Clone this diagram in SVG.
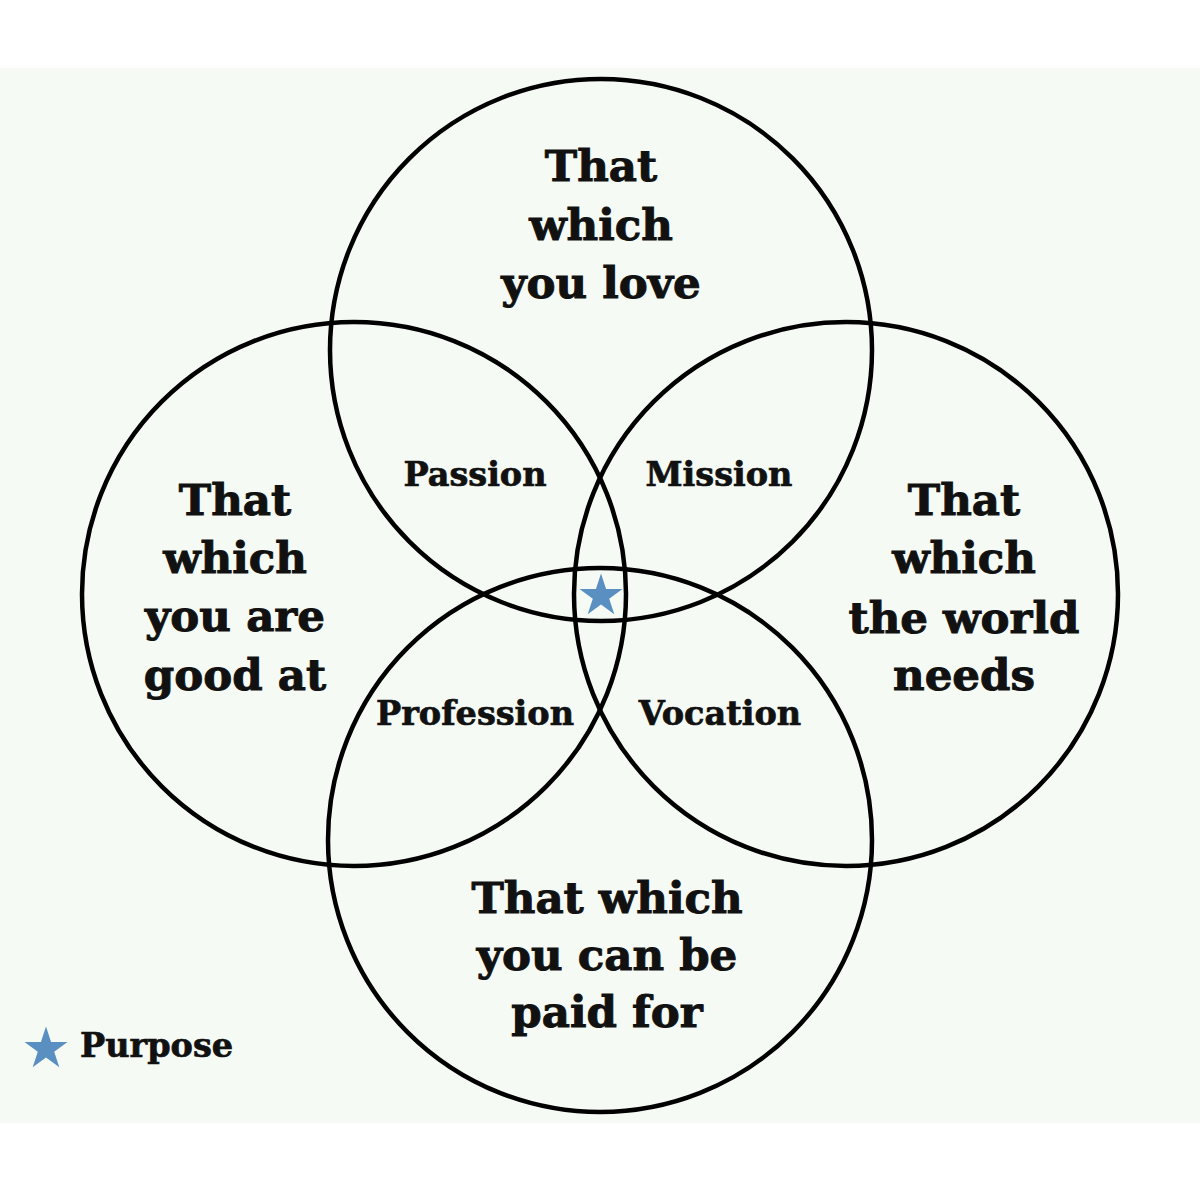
<svg xmlns="http://www.w3.org/2000/svg" width="1200" height="1200" viewBox="0 0 1200 1200">
  <defs>
    <style>
      .ring { fill: none; stroke: #000; stroke-width: 4.5; }
      .big { font-family: "DejaVu Serif", "Liberation Serif", serif; font-weight: bold; font-size: 43.5px; fill: #111; stroke: #111; stroke-width: 1; text-anchor: middle; }
      .lbl { font-family: "DejaVu Serif", "Liberation Serif", serif; font-weight: bold; font-size: 33.5px; fill: #111; stroke: #111; stroke-width: 0.7; text-anchor: middle; }
      .leg { font-family: "DejaVu Serif", "Liberation Serif", serif; font-weight: bold; font-size: 33.5px; fill: #111; stroke: #111; stroke-width: 0.7; }
      .star { fill: #5a8fc2; }
    </style>
    <polygon id="starShape" points="0,-22.6 5.08,-7 21.5,-7 8.2,2.67 13.3,18.3 0,8.6 -13.3,18.3 -8.2,2.67 -21.5,-7 -5.08,-7"/>
  </defs>
  <rect x="0" y="0" width="1200" height="1200" fill="#ffffff"/>
  <rect x="0" y="68" width="1200" height="1055" fill="#f5faf4"/>

  <g id="connectors"></g>

  <g id="love">
    <circle class="ring" cx="601" cy="350" r="271"/>
    <text class="big" x="601" y="181">That</text>
    <text class="big" x="601" y="240">which</text>
    <text class="big" x="601" y="298">you love</text>
  </g>
  <g id="good">
    <circle class="ring" cx="354" cy="594" r="272"/>
    <text class="big" x="235" y="515">That</text>
    <text class="big" x="235" y="573">which</text>
    <text class="big" x="235" y="631">you are</text>
    <text class="big" x="235" y="690">good at</text>
  </g>
  <g id="world">
    <circle class="ring" cx="846" cy="594" r="272"/>
    <text class="big" x="964" y="515">That</text>
    <text class="big" x="964" y="573">which</text>
    <text class="big" x="964" y="633">the world</text>
    <text class="big" x="964" y="690">needs</text>
  </g>
  <g id="paid">
    <circle class="ring" cx="600" cy="840" r="272"/>
    <text class="big" x="607" y="913">That which</text>
    <text class="big" x="607" y="970">you can be</text>
    <text class="big" x="607" y="1027">paid for</text>
  </g>

  <g id="passion"><text class="lbl" x="475" y="486">Passion</text></g>
  <g id="mission"><text class="lbl" x="719" y="486">Mission</text></g>
  <g id="profession"><text class="lbl" x="475" y="725">Profession</text></g>
  <g id="vocation"><text class="lbl" x="720" y="725">Vocation</text></g>

  <g id="purpose-star">
    <use href="#starShape" class="star" x="601" y="596"/>
  </g>
  <g id="legend">
    <use href="#starShape" class="star" x="46" y="1049"/>
    <text class="leg" x="80" y="1057">Purpose</text>
  </g>
</svg>
